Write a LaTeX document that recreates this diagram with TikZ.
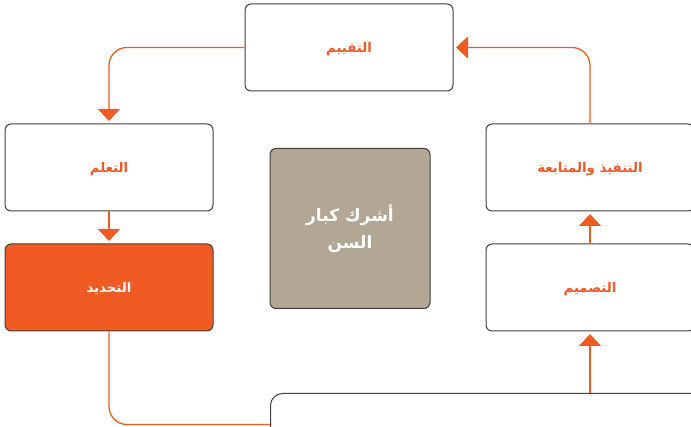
\documentclass[tikz,border=0pt]{standalone}
\usepackage{fontspec}
\TeXXeTstate=1
\newfontfamily\arabicfont[Script=Arabic]{DejaVu Sans}
\usetikzlibrary{arrows.meta}
\definecolor{brand}{HTML}{F15A22}
\definecolor{stone}{HTML}{B2A794}
\definecolor{edge}{HTML}{404040}
\tikzset{
  boxbase/.style={draw=edge, line width=1pt, rounded corners=6pt, fill=white,
    minimum width=208pt, minimum height=87pt, inner sep=0pt},
  stepbox/.style={boxbase, text height=12pt, text depth=2pt,
    font=\arabicfont\bfseries\fontsize{13.3}{15}\selectfont, text=brand},
  flow/.style={draw=brand, line width=1.3pt, rounded corners=18pt},
  tip/.style={-{Triangle[width=22pt,length=12pt]}, shorten >=2.5pt},
}
\begin{document}
\begin{tikzpicture}[x=1pt,y=-1pt]
\useasboundingbox (0,0) rectangle (691,427);
\clip (0,0) rectangle (691,427);
\node[stepbox] (eval) at (349,47.5) {\beginR التقييم\endR};
\node[stepbox] (learn) at (109,167.5) {\beginR التعلم\endR};
\node[stepbox, fill=brand, text=white] (define) at (109,287.5) {\beginR التحديد\endR};
\node[boxbase, fill=stone, minimum width=160pt, minimum height=160pt, text=white,
  align=center, font=\arabicfont\bfseries\fontsize{17}{27}\selectfont] (core) at (350,228.5)
  {\beginR أشرك كبار\endR\\\beginR السن\endR};
\node[stepbox] (impl) at (590,167.5) {\beginR التنفيذ والمتابعة\endR};
\node[stepbox] (design) at (590,287.5) {\beginR التصميم\endR};
\node[boxbase, rounded corners=12pt, minimum width=640pt, minimum height=62pt, anchor=north west] (base) at (270,393) {};
\draw[flow, tip] (eval.west) -| (learn.north);
\draw[flow, tip] (learn.south) -- (define.north);
\draw[flow] (define.south) |- (base.west);
\draw[flow, tip] (base.north -| design.south) -- (design.south);
\draw[flow, tip] (design.north) -- (impl.south);
\draw[flow, tip] (impl.north) |- (eval.east);
\end{tikzpicture}
\end{document}
